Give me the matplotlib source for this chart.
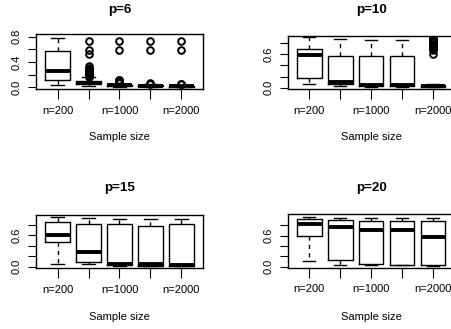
import matplotlib
matplotlib.use("Agg")
import matplotlib.pyplot as plt

plt.rcParams['font.family'] = ['Liberation Sans', 'DejaVu Sans']

titles = ["p=6", "p=10", "p=15", "p=20"]
x_labels = ["n=200", "", "n=1000", "", "n=2000"]
y_ticks = [0.0, 0.2, 0.4, 0.6, 0.8]
y_labels = [["0.0", "", "0.4", "", "0.8"],
            ["0.0", "", "", "0.6", ""],
            ["0.0", "", "", "0.6", ""],
            ["0.0", "", "", "0.6", ""]]

whisker_low = [[0.03, 0.02, 0.01, 0.008, 0.006],
               [0.06, 0.03, 0.02, 0.015, 0.01],
               [0.057, 0.045, 0.02, 0.02, 0.02],
               [0.11, 0.03, 0.04, 0.03, 0.02]]
q1 = [[0.115, 0.05, 0.02, 0.015, 0.01],
      [0.18, 0.06, 0.03, 0.025, 0.02],
      [0.47, 0.09, 0.025, 0.02, 0.02],
      [0.59, 0.13, 0.05, 0.03, 0.03]]
median = [[0.25, 0.07, 0.03, 0.02, 0.018],
          [0.58, 0.095, 0.05, 0.045, 0.035],
          [0.61, 0.28, 0.05, 0.045, 0.04],
          [0.82, 0.77, 0.71, 0.71, 0.58]]
q3 = [[0.58, 0.095, 0.04, 0.03, 0.025],
      [0.70, 0.565, 0.565, 0.565, 0.05],
      [0.85, 0.815, 0.81, 0.77, 0.81],
      [0.92, 0.90, 0.88, 0.88, 0.88]]
whisker_high = [[0.78, 0.16, 0.06, 0.045, 0.035],
                [0.90, 0.87, 0.86, 0.86, 0.07],
                [0.95, 0.935, 0.915, 0.915, 0.915],
                [0.97, 0.95, 0.95, 0.95, 0.95]]
outliers = [
    [[],
     [0.73, 0.59, 0.52, 0.33, 0.30, 0.28, 0.27, 0.25, 0.24, 0.22, 0.21, 0.20, 0.19, 0.18, 0.17],
     [0.73, 0.59, 0.12, 0.11, 0.10, 0.09, 0.08, 0.07],
     [0.73, 0.59, 0.07, 0.06],
     [0.73, 0.59, 0.05, 0.045]],
    [[], [], [], [],
     [0.595, 0.67, 0.69, 0.71, 0.73, 0.75, 0.77, 0.79, 0.81, 0.83, 0.85, 0.87, 0.89]],
    [[], [], [], [], []],
    [[], [], [], [], []],
]

y_limits = [(-0.027, 0.843), (-0.023, 0.926), (-0.031, 0.99), (-0.019, 1.014)]

W, H = 452, 329
# axes rectangles in pixels: left, top, right, bottom
rects = [(36, 34, 203, 89), (287.6, 36, 454.6, 89),
         (36, 215, 203, 268.3), (287.6, 214.3, 454.6, 267.7)]
title_y = [10, 10, 188.5, 188.5]
xlabel_y = [137, 137, 317, 317]

fig = plt.figure(figsize=(W / 100, H / 100), dpi=100)
for i in range(4):
    l, t, r, b = rects[i]
    ax = fig.add_axes([l / W, 1 - b / H, (r - l) / W, (b - t) / H])
    stats = []
    for j in range(5):
        stats.append(dict(med=median[i][j], q1=q1[i][j], q3=q3[i][j],
                          whislo=whisker_low[i][j], whishi=whisker_high[i][j],
                          fliers=outliers[i][j]))
    ax.bxp(stats, positions=[1, 2, 3, 4, 5], widths=0.8, capwidths=0.4,
           showfliers=True,
           boxprops=dict(color='black', linewidth=1.0),
           medianprops=dict(color='black', linewidth=2.8, solid_capstyle='butt'),
           whiskerprops=dict(color='black', linewidth=1.0, linestyle=(0, (3, 3))),
           capprops=dict(color='black', linewidth=1.0),
           flierprops=dict(marker='o', markerfacecolor='none', markeredgecolor='black',
                           markersize=4.8, markeredgewidth=1.4, linestyle='none'))
    ax.set_xlim(0.3, 5.7)
    ax.set_ylim(*y_limits[i])
    ax.set_xticks([1, 2, 3, 4, 5])
    ax.set_xticklabels(x_labels, fontsize=8)
    ax.set_yticks(y_ticks)
    ax.set_yticklabels(y_labels[i], fontsize=8, rotation=90, va='center')
    ax.tick_params(axis='x', length=7, width=0.8, pad=5)
    ax.tick_params(axis='y', length=6, width=0.8, pad=4)
    for s in ax.spines.values():
        s.set_linewidth(1.0)
    cx = (l + r) / 2
    fig.text(cx / W, 1 - title_y[i] / H, titles[i], ha='center', va='center',
             fontsize=9.6, fontweight='bold')
    fig.text(cx / W, 1 - xlabel_y[i] / H, "Sample size", ha='center', va='center',
             fontsize=8)

fig.savefig("out.png", dpi=100)
